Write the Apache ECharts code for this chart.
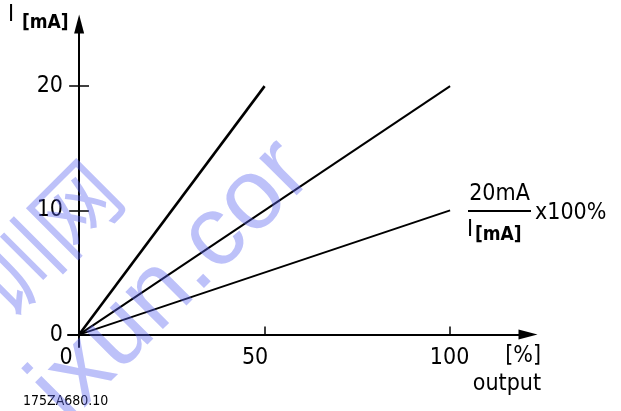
<!DOCTYPE html>
<html><head><meta charset="utf-8">
<script src="https://cdn.jsdelivr.net/npm/echarts@6/dist/echarts.min.js"></script>
<style>html,body{margin:0;padding:0;background:#fff}#c{width:621px;height:411px}</style>
</head><body><div id="c"></div>
<script>
// Data
const xTickValues = [50, 100];
const xLabelValues = [0, 50, 100];
const yTickValues = [0, 10, 20];
const lineA = [[0, 0], [50, 20]];   // steep
const lineB = [[0, 0], [100, 20]];
const lineC = [[0, 0], [100, 10]];

const FONT = '"DejaVu Sans Condensed", "DejaVu Sans", sans-serif';
const FS = 23;
const chart = echarts.init(document.getElementById('c'), null, {renderer: 'canvas'});
const axisBase = {color: '#000', width: 2};
chart.setOption({
  animation: false,
  backgroundColor: '#fff',
  grid: {left: 68, right: 93, top: 24, bottom: 64},
  xAxis: [{
    type: 'value', min: -3, max: 121,
    axisLine: {show: true, onZero: true, lineStyle: axisBase, symbol: ['none', 'triangle'], symbolSize: [10, 19]},
    axisTick: {show: true, inside: true, length: 8, lineStyle: {color: '#000', width: 1.5}, customValues: xTickValues},
    axisLabel: {
      show: true, margin: 0, color: '#000', fontFamily: FONT, fontSize: FS,
      customValues: xLabelValues,
      formatter: function (v) { return v === 0 ? '{a|0}' : (v === 50 ? '{b|50}' : '{c|100}'); },
      rich: {
        a: {fontFamily: FONT, fontSize: FS, color: '#000', padding: [0, 26, 0, 0]},
        b: {fontFamily: FONT, fontSize: FS, color: '#000', padding: [0, 19, 0, 0]},
        c: {fontFamily: FONT, fontSize: FS, color: '#000', padding: [0, 1, 0, 0]}
      }
    },
    splitLine: {show: false}
  }],
  yAxis: [{
    type: 'value', min: -1, max: 25, position: 'left',
    axisLine: {show: true, onZero: true, lineStyle: axisBase, symbol: ['none', 'triangle'], symbolSize: [10, 19]},
    axisTick: {show: true, inside: false, length: 10, lineStyle: {color: '#000', width: 1.5}, customValues: yTickValues},
    axisLabel: {show: true, margin: 5, color: '#000', fontFamily: FONT, fontSize: FS, customValues: yTickValues},
    splitLine: {show: false}
  }, {
    type: 'value', min: -1, max: 25, position: 'left', offset: -11,
    axisLine: {show: false, onZero: false},
    axisTick: {show: true, inside: true, length: 10, lineStyle: {color: '#000', width: 1.5}, customValues: yTickValues},
    axisLabel: {show: false},
    splitLine: {show: false}
  }],
  series: [
    {type: 'line', data: lineA, showSymbol: false, lineStyle: {color: '#000', width: 2.6}, z: 3},
    {type: 'line', data: lineB, showSymbol: false, lineStyle: {color: '#000', width: 2}, z: 3},
    {type: 'line', data: lineC, showSymbol: false, lineStyle: {color: '#000', width: 2}, z: 3}
  ],
  graphic: [
    {type: 'text', x: 8, y: 15, z: 10, style: {text: 'I', font: '23px ' + FONT, fill: '#000', align: 'left', verticalAlign: 'middle'}},
    {type: 'text', x: 22, y: 23, z: 10, style: {text: '[mA]', font: 'bold 19px ' + FONT, fill: '#000', align: 'left', verticalAlign: 'middle'}},
    {type: 'text', x: 541, y: 356, z: 10, style: {text: '[%]', font: FS + 'px ' + FONT, fill: '#000', align: 'right', verticalAlign: 'middle'}},
    {type: 'text', x: 541, y: 384, z: 10, style: {text: 'output', font: FS + 'px ' + FONT, fill: '#000', align: 'right', verticalAlign: 'middle'}},
    {type: 'text', x: 499.5, y: 194, z: 10, style: {text: '20mA', font: FS + 'px ' + FONT, fill: '#000', align: 'center', verticalAlign: 'middle'}},
    {type: 'line', z: 10, shape: {x1: 468, y1: 211, x2: 531, y2: 211}, style: {stroke: '#000', lineWidth: 2}},
    {type: 'text', x: 467, y: 230, z: 10, style: {text: 'I', font: '23px ' + FONT, fill: '#000', align: 'left', verticalAlign: 'middle'}},
    {type: 'text', x: 475, y: 235, z: 10, style: {text: '[mA]', font: 'bold 19px ' + FONT, fill: '#000', align: 'left', verticalAlign: 'middle'}},
    {type: 'text', x: 535, y: 213, z: 10, style: {text: 'x100%', font: FS + 'px ' + FONT, fill: '#000', align: 'left', verticalAlign: 'middle'}},
    {type: 'text', x: 23, y: 401, z: 10, style: {text: '175ZA680.10', font: '14px ' + FONT, fill: '#000', align: 'left', verticalAlign: 'middle'}},
    // watermark
    {type: 'text', x: 172, y: 281, rotation: Math.PI / 4, z: 20, style: {text: 'ixun.cor', font: '100px "Liberation Sans", sans-serif', fill: 'rgba(90,100,240,0.4)', align: 'center', verticalAlign: 'middle'}},
    {type: 'text', x: 45, y: 238, rotation: Math.PI / 4, z: 20, style: {text: '训网', font: '86px "Noto Sans CJK SC", sans-serif', fill: 'rgba(90,100,240,0.4)', align: 'center', verticalAlign: 'middle'}}
  ]
});
</script>
</body></html>
